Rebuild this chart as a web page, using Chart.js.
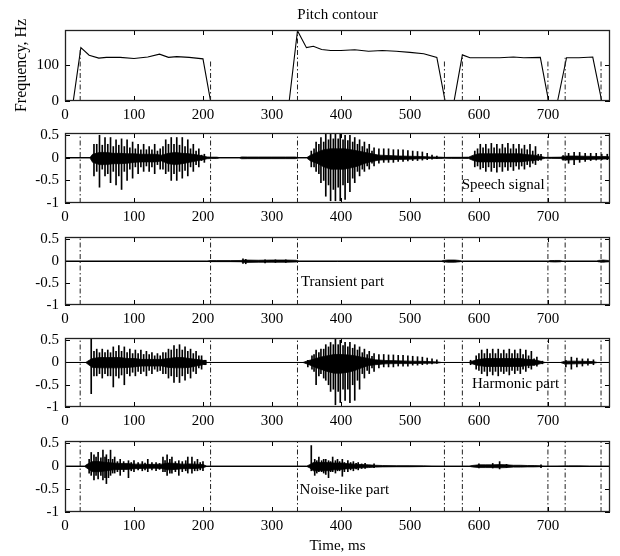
<!DOCTYPE html>
<html><head><meta charset="utf-8">
<script src="https://cdn.jsdelivr.net/npm/chart.js@4.4.1/dist/chart.umd.min.js"></script>
<style>
html,body{margin:0;padding:0;background:#fff;}
#wrap{position:relative;width:620px;height:556px;overflow:hidden;background:#fff;}
canvas{position:absolute;left:0;}
</style></head><body><div id="wrap">
<canvas id="c1" width="620" height="125" style="top:0px"></canvas>
<canvas id="c2" width="620" height="98" style="top:129px"></canvas>
<canvas id="c3" width="620" height="96" style="top:233px"></canvas>
<canvas id="c4" width="620" height="97" style="top:334px"></canvas>
<canvas id="c5" width="620" height="119" style="top:437px"></canvas>
</div>
<script>
// ---------- axis ticks ----------
const xTicks = [0, 100, 200, 300, 400, 500, 600, 700];
const pitchYTicks = [0, 100];
const waveYTicks = [-1, -0.5, 0, 0.5];

// ---------- segment boundaries (ms) ----------
const boundaryT = [22, 211, 337, 550, 576, 700, 725, 777];
const pitchBoundaryTop = [148, 110, 197, 110, 125, 110, 120, 110];

// ---------- pitch contour (ms, Hz); null = unvoiced gap ----------
const pitchT  = [12, 23, 35, 49, 60, 80, 100, 120, 137, 150, 162, 180, 200, 211, null,
                 325, 337, 350, 360, 372, 385, 400, 420, 440, 460, 480, 500, 520, 539, 551, null,
                 564, 576, 587, 610, 630, 650, 665, 689, 701, null,
                 714, 727, 745, 765, 778];
const pitchHz = [0, 148, 127, 119, 121, 121, 118, 122, 130, 121, 123, 121, 117, 0, null,
                 0, 195, 148, 152, 143, 140, 140, 142, 138, 140, 138, 135, 131, 121, 0, null,
                 0, 128, 120, 120, 120, 122, 120, 121, 0, null,
                 0, 120, 120, 122, 0];

// ---------- Speech signal ----------
const speechBodyT  = [0, 36, 40, 50, 60, 70, 80, 90, 100, 110, 120, 130, 140, 150, 160, 170, 180, 190, 200, 206, 212, 220, 226,
                      252, 256, 265, 280, 300, 320, 334, 340,
                      350, 356, 365, 375, 385, 395, 405, 415, 425, 435, 445, 455, 470, 485, 500, 515, 530, 545, 550,
                      560, 575, 585, 592, 600, 610, 620, 630, 640, 650, 660, 670, 680, 690, 696,
                      705, 718, 725, 740, 755, 770, 785, 790];
const speechBodyHi = [0, 0, 0.08, 0.12, 0.12, 0.1, 0.1, 0.09, 0.09, 0.08, 0.08, 0.08, 0.06, 0.1, 0.12, 0.1, 0.09, 0.07, 0.04, 0.02, 0.015, 0.015, 0,
                      0, 0.02, 0.018, 0.018, 0.018, 0.018, 0.018, 0,
                      0, 0.06, 0.12, 0.18, 0.2, 0.2, 0.2, 0.18, 0.15, 0.12, 0.09, 0.06, 0.05, 0.04, 0.035, 0.03, 0.02, 0.015, 0.01,
                      0.012, 0.012, 0.015, 0.06, 0.09, 0.09, 0.09, 0.09, 0.09, 0.09, 0.09, 0.07, 0.06, 0.03, 0.01,
                      0.012, 0.015, 0.04, 0.04, 0.035, 0.03, 0.03, 0.02];
const speechBodyLo = [0, 0, -0.1, -0.15, -0.15, -0.13, -0.13, -0.12, -0.1, -0.09, -0.09, -0.09, -0.07, -0.13, -0.15, -0.13, -0.1, -0.07, -0.04, -0.02, -0.015, -0.015, 0,
                      0, -0.02, -0.018, -0.018, -0.018, -0.018, -0.018, 0,
                      0, -0.07, -0.12, -0.2, -0.25, -0.25, -0.25, -0.22, -0.18, -0.12, -0.08, -0.05, -0.04, -0.035, -0.03, -0.02, -0.015, -0.015, -0.01,
                      -0.012, -0.012, -0.015, -0.06, -0.09, -0.09, -0.09, -0.09, -0.09, -0.09, -0.09, -0.07, -0.06, -0.03, -0.01,
                      -0.012, -0.015, -0.05, -0.04, -0.035, -0.03, -0.025, -0.02];
const speechPulseT  = [42, 50, 58, 66, 74, 82, 90, 98, 106, 114, 122, 130, 138, 146, 154, 162, 170, 178, 186, 194, 202,
                       357, 364, 371, 378, 385, 392, 399, 406, 413, 420, 427, 434, 441, 448, 455, 462, 469, 476, 483, 490, 497, 504, 511, 518, 525, 532, 539,
                       594, 602, 610, 618, 626, 634, 642, 650, 658, 666, 674, 682, 690,
                       722, 730, 738, 746, 754, 762, 770, 778, 786];
const speechPulseHi = [0.3, 0.5, 0.45, 0.45, 0.4, 0.42, 0.4, 0.35, 0.3, 0.3, 0.25, 0.3, 0.2, 0.4, 0.45, 0.45, 0.45, 0.4, 0.3, 0.2, 0.08,
                       0.15, 0.35, 0.45, 0.52, 0.55, 0.55, 0.55, 0.5, 0.5, 0.45, 0.4, 0.35, 0.3, 0.22, 0.2, 0.2, 0.2, 0.18, 0.18, 0.18, 0.16, 0.15, 0.14, 0.13, 0.1, 0.06, 0.04,
                       0.15, 0.3, 0.3, 0.32, 0.3, 0.3, 0.32, 0.3, 0.3, 0.28, 0.3, 0.25, 0.08,
                       0.05, 0.1, 0.12, 0.12, 0.1, 0.1, 0.1, 0.08, 0.08];
const speechPulseLo = [-0.4, -0.65, -0.4, -0.55, -0.6, -0.7, -0.5, -0.45, -0.35, -0.3, -0.3, -0.35, -0.25, -0.35, -0.5, -0.5, -0.45, -0.4, -0.3, -0.2, -0.1,
                       -0.2, -0.3, -0.55, -0.85, -0.95, -0.95, -0.95, -0.92, -0.75, -0.55, -0.4, -0.3, -0.25, -0.18, -0.12, -0.1, -0.1, -0.1, -0.08, -0.08, -0.07, -0.06, -0.06, -0.05, -0.04, -0.03, -0.02,
                       -0.2, -0.25, -0.3, -0.3, -0.32, -0.3, -0.28, -0.28, -0.25, -0.25, -0.2, -0.15, -0.05,
                       -0.05, -0.12, -0.15, -0.1, -0.08, -0.06, -0.05, -0.04, -0.04];
// secondary (in-period) peaks
const speechMinorT  = [46, 54, 62, 70, 78, 86, 94, 102, 110, 118, 126, 134, 142, 150, 158, 166, 174, 182, 190, 198,
                       361, 368, 375, 382, 389, 396, 403, 410, 417, 424, 431, 438, 445,
                       598, 606, 614, 622, 630, 638, 646, 654, 662, 670, 678, 686];
const speechMinorHi = [0.3, 0.28, 0.3, 0.25, 0.28, 0.25, 0.22, 0.2, 0.18, 0.18, 0.18, 0.15, 0.25, 0.3, 0.3, 0.28, 0.25, 0.2, 0.15, 0.06,
                       0.2, 0.3, 0.35, 0.4, 0.42, 0.42, 0.4, 0.38, 0.35, 0.3, 0.25, 0.2, 0.15,
                       0.2, 0.22, 0.2, 0.22, 0.2, 0.22, 0.2, 0.2, 0.2, 0.18, 0.15, 0.08];
const speechMinorLo = [-0.3, -0.25, -0.35, -0.3, -0.4, -0.3, -0.25, -0.2, -0.2, -0.18, -0.2, -0.15, -0.25, -0.3, -0.35, -0.3, -0.28, -0.2, -0.15, -0.06,
                       -0.2, -0.35, -0.5, -0.6, -0.7, -0.65, -0.6, -0.55, -0.45, -0.3, -0.25, -0.18, -0.12,
                       -0.18, -0.22, -0.2, -0.22, -0.2, -0.2, -0.2, -0.18, -0.18, -0.15, -0.12, -0.06];

// ---------- Transient part ----------
const transBodyT  = [0, 205, 210, 220, 240, 255, 260, 280, 300, 320, 335, 340, 545, 548, 555, 565, 572, 576, 700, 703, 710, 718, 722, 770, 773, 780, 788, 790];
const transBodyHi = [0, 0, 0.012, 0.012, 0.012, 0.015, 0.025, 0.02, 0.025, 0.025, 0.02, 0, 0, 0.015, 0.025, 0.025, 0.015, 0, 0, 0.012, 0.015, 0.015, 0, 0, 0.015, 0.025, 0.015, 0];
const transBodyLo = [0, 0, -0.012, -0.012, -0.012, -0.015, -0.03, -0.025, -0.025, -0.025, -0.02, 0, 0, -0.015, -0.025, -0.025, -0.015, 0, 0, -0.015, -0.02, -0.015, 0, 0, -0.015, -0.025, -0.015, 0];
const transPulseT  = [258, 262, 290, 305, 320];
const transPulseHi = [0.05, 0.04, 0.03, 0.03, 0.03];
const transPulseLo = [-0.05, -0.06, -0.04, -0.03, -0.03];
const transMinorT  = [];
const transMinorHi = [];
const transMinorLo = [];

// ---------- Harmonic part ----------
const harmBodyT  = [0, 30, 35, 40, 50, 60, 70, 80, 90, 100, 110, 120, 130, 140, 150, 160, 170, 180, 190, 200, 206,
                    345, 352, 360, 370, 380, 390, 400, 410, 420, 430, 440, 450, 465, 480, 500, 520, 540, 546,
                    585, 592, 600, 610, 620, 630, 640, 650, 660, 670, 680, 690, 696,
                    718, 725, 740, 755, 765, 772, 790];
const harmBodyHi = [0, 0, 0.05, 0.09, 0.11, 0.11, 0.11, 0.11, 0.09, 0.09, 0.07, 0.07, 0.07, 0.07, 0.09, 0.11, 0.11, 0.09, 0.07, 0.05, 0,
                    0, 0.04, 0.07, 0.12, 0.15, 0.18, 0.18, 0.17, 0.15, 0.12, 0.09, 0.06, 0.045, 0.04, 0.03, 0.025, 0.012, 0,
                    0, 0.04, 0.07, 0.09, 0.09, 0.09, 0.09, 0.09, 0.09, 0.07, 0.06, 0.025, 0,
                    0, 0.03, 0.03, 0.025, 0.02, 0, 0];
const harmBodyLo = [0, 0, -0.06, -0.11, -0.12, -0.12, -0.12, -0.12, -0.11, -0.1, -0.08, -0.08, -0.08, -0.08, -0.11, -0.12, -0.12, -0.11, -0.08, -0.05, 0,
                    0, -0.04, -0.09, -0.15, -0.2, -0.24, -0.24, -0.22, -0.18, -0.12, -0.07, -0.05, -0.03, -0.025, -0.025, -0.02, -0.012, 0,
                    0, -0.04, -0.07, -0.09, -0.09, -0.09, -0.09, -0.09, -0.09, -0.07, -0.06, -0.025, 0,
                    0, -0.035, -0.03, -0.025, -0.02, 0, 0];
const harmPulseT  = [38, 46, 54, 62, 70, 78, 86, 94, 102, 110, 118, 126, 134, 142, 150, 158, 166, 174, 182, 190, 198, 204,
                     352, 358, 364, 371, 378, 385, 392, 399, 406, 413, 420, 427, 434, 441, 448, 455, 462, 469, 476, 483, 490, 497, 504, 511, 518, 525, 532, 539,
                     588, 596, 604, 612, 620, 628, 636, 644, 652, 660, 668, 676, 684, 692,
                     726, 734, 742, 750, 758, 766];
const harmPulseHi = [0.55, 0.3, 0.3, 0.28, 0.35, 0.38, 0.35, 0.3, 0.28, 0.28, 0.25, 0.22, 0.2, 0.22, 0.3, 0.38, 0.4, 0.35, 0.3, 0.25, 0.15, 0.05,
                     0.05, 0.15, 0.28, 0.3, 0.4, 0.45, 0.55, 0.5, 0.45, 0.45, 0.4, 0.35, 0.3, 0.25, 0.2, 0.18, 0.18, 0.17, 0.17, 0.16, 0.16, 0.15, 0.14, 0.13, 0.12, 0.1, 0.08, 0.06,
                     0.05, 0.15, 0.28, 0.3, 0.3, 0.3, 0.28, 0.3, 0.28, 0.3, 0.28, 0.25, 0.12, 0.03,
                     0.05, 0.12, 0.1, 0.08, 0.08, 0.06];
const harmPulseLo = [-0.7, -0.3, -0.35, -0.3, -0.55, -0.35, -0.5, -0.3, -0.3, -0.25, -0.3, -0.25, -0.2, -0.25, -0.35, -0.45, -0.45, -0.4, -0.35, -0.25, -0.15, -0.05,
                     -0.1, -0.15, -0.5, -0.25, -0.4, -0.65, -0.95, -0.9, -0.85, -0.9, -0.85, -0.6, -0.35, -0.25, -0.2, -0.12, -0.1, -0.1, -0.1, -0.08, -0.08, -0.08, -0.06, -0.06, -0.05, -0.04, -0.03, -0.02,
                     -0.05, -0.15, -0.25, -0.3, -0.28, -0.3, -0.25, -0.28, -0.25, -0.25, -0.2, -0.15, -0.08, -0.03,
                     -0.1, -0.15, -0.1, -0.08, -0.06, -0.05];
const harmMinorT  = [42, 50, 58, 66, 74, 82, 90, 98, 106, 114, 122, 130, 138, 146, 154, 162, 170, 178, 186, 194, 202,
                     361, 368, 375, 382, 389, 396, 403, 410, 417, 424, 431, 438, 445,
                     600, 608, 616, 624, 632, 640, 648, 656, 664, 672, 680];
const harmMinorHi = [0.25, 0.22, 0.22, 0.22, 0.25, 0.25, 0.22, 0.2, 0.2, 0.18, 0.18, 0.15, 0.15, 0.22, 0.28, 0.3, 0.28, 0.25, 0.2, 0.15, 0.05,
                     0.18, 0.22, 0.3, 0.35, 0.4, 0.4, 0.38, 0.35, 0.32, 0.28, 0.22, 0.18, 0.14,
                     0.2, 0.2, 0.2, 0.2, 0.2, 0.2, 0.2, 0.2, 0.18, 0.15, 0.08];
const harmMinorLo = [-0.3, -0.25, -0.25, -0.3, -0.3, -0.28, -0.25, -0.22, -0.2, -0.2, -0.18, -0.15, -0.18, -0.25, -0.3, -0.32, -0.3, -0.25, -0.2, -0.12, -0.05,
                     -0.2, -0.3, -0.35, -0.5, -0.6, -0.65, -0.6, -0.6, -0.5, -0.4, -0.25, -0.18, -0.12,
                     -0.18, -0.2, -0.2, -0.2, -0.2, -0.2, -0.18, -0.18, -0.15, -0.12, -0.06];

// ---------- Noise-like part ----------
const noiseBodyT  = [0, 28, 32, 40, 50, 60, 70, 80, 90, 100, 110, 120, 130, 140, 150, 160, 170, 180, 190, 200, 206,
                     350, 355, 360, 370, 380, 390, 400, 410, 420, 430, 440, 450, 460, 480, 500, 520, 545,
                     585, 590, 600, 610, 620, 630, 640, 650, 660, 670, 680, 690, 696, 730, 745, 760, 790];
const noiseBodyHi = [0, 0, 0.04, 0.1, 0.1, 0.08, 0.07, 0.06, 0.06, 0.045, 0.045, 0.04, 0.04, 0.045, 0.07, 0.06, 0.045, 0.05, 0.045, 0.035, 0,
                     0, 0.035, 0.08, 0.08, 0.08, 0.07, 0.07, 0.055, 0.045, 0.035, 0.03, 0.02, 0.015, 0.012, 0.012, 0.008, 0,
                     0, 0.015, 0.03, 0.03, 0.03, 0.035, 0.03, 0.02, 0.02, 0.015, 0.015, 0.01, 0, 0.008, 0.008, 0.005, 0];
const noiseBodyLo = [0, 0, -0.045, -0.12, -0.12, -0.1, -0.08, -0.07, -0.07, -0.055, -0.05, -0.045, -0.045, -0.05, -0.08, -0.07, -0.055, -0.055, -0.05, -0.035, 0,
                     0, -0.04, -0.1, -0.1, -0.1, -0.08, -0.07, -0.055, -0.045, -0.035, -0.03, -0.02, -0.015, -0.012, -0.012, -0.008, 0,
                     0, -0.015, -0.03, -0.03, -0.03, -0.035, -0.03, -0.02, -0.02, -0.015, -0.015, -0.01, 0, -0.008, -0.008, -0.005, 0];
const noisePulseT  = [38, 42, 48, 55, 60, 66, 72, 80, 92, 100, 112, 120, 132, 142, 148, 155, 165, 178, 184, 192, 200,
                      357, 362, 368, 375, 382, 388, 395, 402, 410, 418, 425, 435, 448,
                      600, 620, 630, 640, 690];
const noisePulseHi = [0.3, 0.25, 0.3, 0.35, 0.25, 0.35, 0.2, 0.15, 0.12, 0.12, 0.1, 0.15, 0.08, 0.2, 0.25, 0.2, 0.12, 0.2, 0.2, 0.15, 0.1,
                      0.45, 0.15, 0.2, 0.15, 0.12, 0.2, 0.15, 0.15, 0.12, 0.1, 0.08, 0.06, 0.05,
                      0.05, 0.06, 0.1, 0.04, 0.03];
const noisePulseLo = [-0.2, -0.3, -0.28, -0.3, -0.38, -0.2, -0.15, -0.2, -0.25, -0.12, -0.1, -0.12, -0.1, -0.12, -0.2, -0.15, -0.2, -0.15, -0.15, -0.1, -0.1,
                      -0.1, -0.2, -0.12, -0.15, -0.25, -0.12, -0.1, -0.22, -0.12, -0.1, -0.08, -0.05, -0.03,
                      -0.04, -0.04, -0.06, -0.03, -0.03];
const noiseMinorT  = [35, 45, 52, 58, 63, 69, 76, 85, 96, 106, 116, 126, 137, 145, 152, 160, 170, 175, 188, 196,
                      365, 372, 378, 385, 392, 398, 405, 414, 422, 430];
const noiseMinorHi = [0.15, 0.2, 0.18, 0.2, 0.15, 0.15, 0.1, 0.1, 0.08, 0.08, 0.07, 0.08, 0.06, 0.12, 0.15, 0.1, 0.1, 0.12, 0.1, 0.08,
                      0.12, 0.12, 0.15, 0.1, 0.12, 0.1, 0.08, 0.08, 0.06, 0.05];
const noiseMinorLo = [-0.15, -0.2, -0.2, -0.25, -0.25, -0.15, -0.12, -0.12, -0.1, -0.08, -0.08, -0.08, -0.07, -0.12, -0.15, -0.12, -0.12, -0.1, -0.1, -0.08,
                      -0.15, -0.12, -0.18, -0.12, -0.15, -0.1, -0.12, -0.08, -0.06, -0.05];

// ---------- rendering ----------
const FONT = "'Liberation Serif', 'Times New Roman', serif";
const tickFont = { family: FONT, size: 15 };

const framePlugin = {
  id: 'frame',
  afterDatasetsDraw(chart, args, opts) {
    const { ctx, chartArea: a } = chart;
    const xs = chart.scales.x, ys = chart.scales.y;
    ctx.save();
    ctx.strokeStyle = '#000';
    ctx.lineWidth = 1;
    ctx.beginPath();
    xs.ticks.forEach(t => {
      const px = Math.round(xs.getPixelForValue(t.value)) + 0.5;
      ctx.moveTo(px, a.bottom); ctx.lineTo(px, a.bottom - 5);
      ctx.moveTo(px, a.top); ctx.lineTo(px, a.top + 5);
    });
    ys.ticks.forEach(t => {
      const py = Math.round(ys.getPixelForValue(t.value)) + 0.5;
      ctx.moveTo(a.left, py); ctx.lineTo(a.left + 5, py);
      ctx.moveTo(a.right, py); ctx.lineTo(a.right - 5, py);
    });
    ctx.stroke();
    ctx.lineWidth = 1.3;
    ctx.strokeStyle = '#222';
    ctx.strokeRect(Math.round(a.left) + 0.5, Math.round(a.top) + 0.5, Math.round(a.right - a.left) - 1, Math.round(a.bottom - a.top) - 1);
    if (opts && opts.text) {
      ctx.fillStyle = '#000';
      ctx.font = "15px " + FONT;
      ctx.textAlign = 'left';
      ctx.textBaseline = 'middle';
      ctx.fillText(opts.text, xs.getPixelForValue(opts.x), ys.getPixelForValue(opts.y));
    }
    ctx.restore();
  }
};

function pts(tArr, vArr) {
  return tArr.map((t, i) => ({ x: t, y: (t === null || vArr[i] === null) ? null : vArr[i] }));
}
function boundaryData(lo, tops) {
  const out = [];
  boundaryT.forEach((t, i) => {
    out.push({ x: t, y: lo }, { x: t, y: Array.isArray(tops) ? tops[i] : tops }, { x: t, y: null });
  });
  return out;
}
function boundaryDataset(lo, tops) {
  return {
    type: 'line', data: boundaryData(lo, tops), borderColor: '#222', borderWidth: 1,
    borderDash: [5, 2.5, 1.5, 2.5], pointRadius: 0, fill: false, spanGaps: false, tension: 0
  };
}
function barSet(tArr, hiArr, loArr) {
  return { type: 'bar', data: tArr.map((t, i) => ({ x: t, y: [loArr[i], hiArr[i]] })), backgroundColor: '#000',
           borderWidth: 0, barThickness: 1, grouped: false };
}
function waveDatasets(bT, bHi, bLo, pT, pHi, pLo, mT, mHi, mLo) {
  return [
    boundaryDataset(-1, 0.55),
    { type: 'line', data: pts(bT, bHi), borderColor: '#000', borderWidth: 0.8, backgroundColor: '#000',
      pointRadius: 0, fill: '+1', tension: 0 },
    { type: 'line', data: pts(bT, bLo), borderColor: '#000', borderWidth: 0.8, backgroundColor: '#000',
      pointRadius: 0, fill: false, tension: 0 },
    barSet(pT, pHi, pLo),
    barSet(mT, mHi, mLo)
  ];
}

function makePanel(id, cfg) {
  new Chart(document.getElementById(id), {
    type: 'line',
    data: { datasets: cfg.datasets },
    options: {
      responsive: false, animation: false, devicePixelRatio: 1,
      events: [],
      layout: { padding: { top: cfg.padTop, right: 10, left: 0, bottom: 0 } },
      plugins: {
        legend: { display: false }, tooltip: { enabled: false },
        title: cfg.title ? {
          display: true, text: cfg.title, fullSize: false, color: '#000',
          font: { family: FONT, size: 15, weight: 'normal' }, padding: { top: 6, bottom: 6 }
        } : { display: false },
        frame: cfg.label || {}
      },
      scales: {
        x: {
          type: 'linear', min: 0, max: 790, offset: false,
          afterBuildTicks: s => { s.ticks = xTicks.map(v => ({ value: v })); },
          afterFit: s => { s.height = cfg.xAxisH; s.paddingLeft = 0; s.paddingRight = 0; },
          grid: { display: false, drawTicks: false },
          border: { display: false },
          ticks: { font: tickFont, color: '#000', padding: 5, maxRotation: 0, autoSkip: false,
                   callback: v => String(v) },
          title: cfg.xTitle ? {
            display: true, text: cfg.xTitle, color: '#000',
            font: { family: FONT, size: 15 }, padding: { top: 0, bottom: 1 }
          } : { display: false }
        },
        y: {
          type: 'linear', min: cfg.yMin, max: cfg.yMax,
          afterBuildTicks: s => { s.ticks = cfg.yTicks.map(v => ({ value: v })); },
          afterFit: s => { s.width = 65; s.paddingTop = 0; s.paddingBottom = 0; },
          grid: {
            drawTicks: false, lineWidth: 1,
            color: c => (cfg.zeroLine && c.tick && c.tick.value === 0) ? '#000' : 'rgba(0,0,0,0)'
          },
          border: { display: false },
          ticks: { font: tickFont, color: '#000', padding: 6, autoSkip: false,
                   callback: v => String(v) },
          title: cfg.yTitle ? {
            display: true, text: cfg.yTitle, color: '#000',
            font: { family: FONT, size: 16 }, padding: { top: 12, bottom: 0 }
          } : { display: false }
        }
      }
    },
    plugins: [framePlugin]
  });
}

makePanel('c1', {
  padTop: 0, xAxisH: 24, yMin: 0, yMax: 197, yTicks: pitchYTicks, zeroLine: false,
  title: 'Pitch contour', yTitle: 'Frequency, Hz',
  datasets: [
    boundaryDataset(0, pitchBoundaryTop),
    { type: 'line', data: pts(pitchT, pitchHz), borderColor: '#000', borderWidth: 1.1, pointRadius: 0,
      fill: false, spanGaps: false, tension: 0 }
  ]
});
makePanel('c2', {
  padTop: 4, xAxisH: 24, yMin: -1, yMax: 0.55, yTicks: waveYTicks, zeroLine: true,
  label: { text: 'Speech signal', x: 575, y: -0.6 },
  datasets: waveDatasets(speechBodyT, speechBodyHi, speechBodyLo, speechPulseT, speechPulseHi, speechPulseLo,
                         speechMinorT, speechMinorHi, speechMinorLo)
});
makePanel('c3', {
  padTop: 4, xAxisH: 24, yMin: -1, yMax: 0.55, yTicks: waveYTicks, zeroLine: true,
  label: { text: 'Transient part', x: 342, y: -0.47 },
  datasets: waveDatasets(transBodyT, transBodyHi, transBodyLo, transPulseT, transPulseHi, transPulseLo,
                         transMinorT, transMinorHi, transMinorLo)
});
makePanel('c4', {
  padTop: 4, xAxisH: 24, yMin: -1, yMax: 0.55, yTicks: waveYTicks, zeroLine: true,
  label: { text: 'Harmonic part', x: 590, y: -0.48 },
  datasets: waveDatasets(harmBodyT, harmBodyHi, harmBodyLo, harmPulseT, harmPulseHi, harmPulseLo,
                         harmMinorT, harmMinorHi, harmMinorLo)
});
makePanel('c5', {
  padTop: 4, xAxisH: 44, yMin: -1, yMax: 0.55, yTicks: waveYTicks, zeroLine: true,
  label: { text: 'Noise-like part', x: 340, y: -0.52 }, xTitle: 'Time, ms',
  datasets: waveDatasets(noiseBodyT, noiseBodyHi, noiseBodyLo, noisePulseT, noisePulseHi, noisePulseLo,
                         noiseMinorT, noiseMinorHi, noiseMinorLo)
});
</script>
</body></html>
